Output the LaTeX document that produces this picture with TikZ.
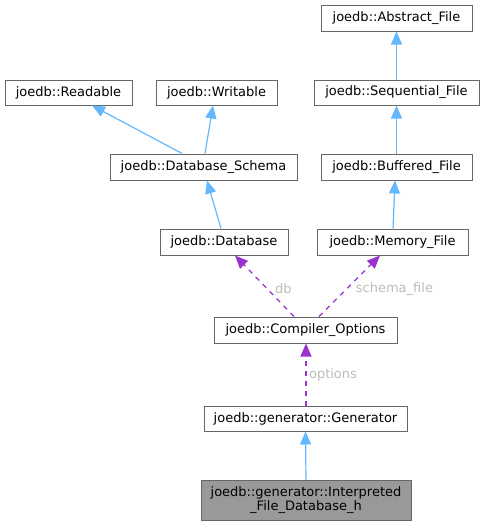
\documentclass[tikz,border=0pt]{standalone}
\usepackage{fontspec}
\setmainfont{DejaVu Sans}
\usetikzlibrary{arrows.meta}
\definecolor{inhblue}{HTML}{63B8FF}
\definecolor{usepurple}{HTML}{9A32CD}
\definecolor{boxgray}{HTML}{666666}
\definecolor{lblgray}{HTML}{BDBDBD}
\definecolor{fillgray}{HTML}{999999}
\begin{document}
\begin{tikzpicture}[x=1pt,y=-1pt,
  cls/.style={draw=boxgray,line width=1pt,fill=white,inner sep=0pt,minimum height=25pt,
    font=\fontsize{13pt}{15pt}\selectfont,text=black},
  inh/.style={color=inhblue,line width=1.2pt,-{Triangle[length=13pt,width=11pt]}},
  usedash/.style={color=usepurple,line width=1.2pt,dash pattern=on 5pt off 5pt,-{Triangle[length=13pt,width=11pt]}},
  lbl/.style={text=lblgray,font=\fontsize{13pt}{15pt}\selectfont,inner sep=0pt}]
\useasboundingbox[fill=white] (0,0) rectangle (485,525);

\node[cls,minimum width=151pt,minimum height=26pt] (abs) at (396.5,18) {joedb::Abstract\_File};
\node[cls,minimum width=127pt] (read) at (68.5,92.5) {joedb::Readable};
\node[cls,minimum width=121pt] (writ) at (216.5,92.5) {joedb::Writable};
\node[cls,minimum width=165pt] (seq) at (396.5,92.5) {joedb::Sequential\_File};
\node[cls,minimum width=187pt,minimum height=26pt] (ds) at (203.5,167) {joedb::Database\_Schema};
\node[cls,minimum width=151pt,minimum height=26pt] (buf) at (396.5,167) {joedb::Buffered\_File};
\node[cls,minimum width=128pt,minimum height=26pt] (db) at (224,242) {joedb::Database};
\node[cls,minimum width=151pt,minimum height=26pt] (mem) at (392.5,242) {joedb::Memory\_File};
\node[cls,minimum width=183pt,minimum height=26pt] (co) at (305.5,330) {joedb::Compiler\_Options};
\node[cls,minimum width=203pt] (gen) at (305.5,418.5) {joedb::generator::Generator};
\node[cls,fill=fillgray,minimum width=210pt,minimum height=40pt,align=center,
  font=\fontsize{13pt}{14pt}\selectfont] (interp) at (306,500) {joedb::generator::Interpreted\\\_File\_Database\_h};

\draw[inh] (seq.north) -- (abs.south);
\draw[inh] (buf.north) -- (seq.south);
\draw[inh] ([xshift=0.5pt]mem.north) -- ([xshift=-1.5pt]buf.south);
\draw[inh] ([xshift=-21.5pt]ds.north) -- ([xshift=23.5pt]read.south);
\draw[inh] ([xshift=1.5pt]ds.north) -- ([xshift=-3.5pt]writ.south);
\draw[inh] ([xshift=-3pt]db.north) -- ([xshift=3.5pt]ds.south);
\draw[usedash] ([xshift=-11.5pt]co.north) -- node[lbl,pos=0.45,xshift=16pt] {db} ([xshift=11pt]db.south);
\draw[usedash] ([xshift=13.5pt]co.north) -- node[lbl,pos=0.45,xshift=48pt] {schema\_file} ([xshift=-12.5pt]mem.south);
\draw[usedash] ([xshift=0.5pt]gen.north) -- node[lbl,pos=0.5,xshift=27pt] {options} ([xshift=0.5pt]co.south);
\draw[inh] (interp.north) -- (gen.south);
\end{tikzpicture}
\end{document}
